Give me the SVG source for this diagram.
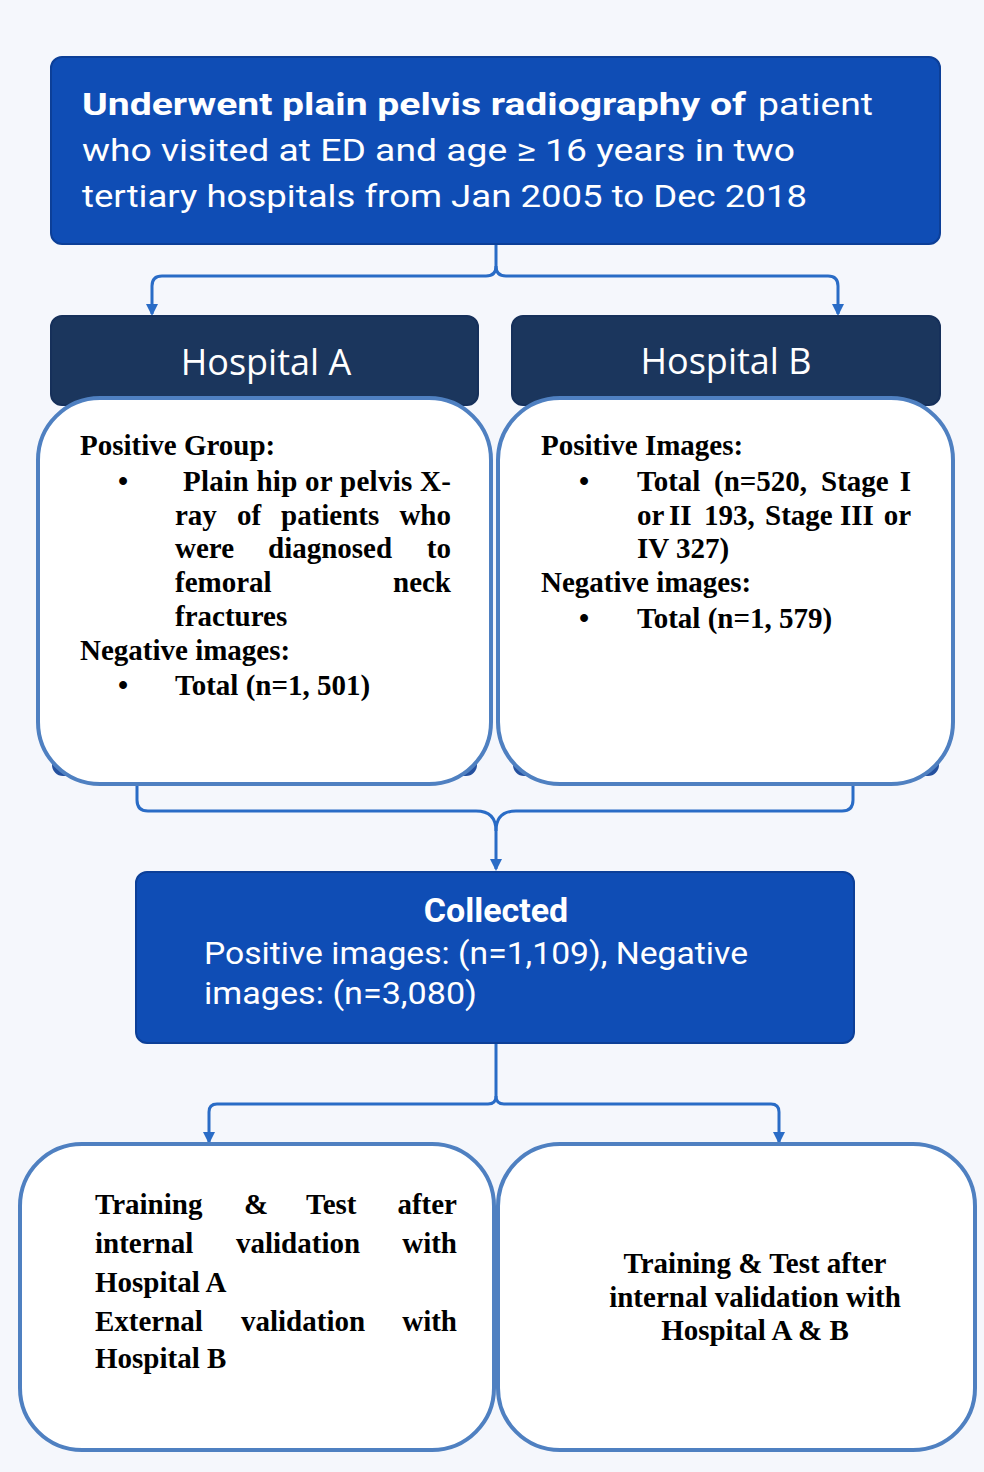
<svg xmlns="http://www.w3.org/2000/svg" width="984" height="1472" viewBox="0 0 984 1472">
<style>
.bg{fill:#f5f7fc}
.blue{fill:#0f4db5;stroke:#0c3f98;stroke-width:2}
.navy{fill:#1b365d;stroke:#16305a;stroke-width:2}
.under{fill:#24509e}
.card{fill:#ffffff;stroke:#4f80c1;stroke-width:4}
.conn{fill:none;stroke:#2a6cc6;stroke-width:3}
.sans{font-family:Roboto,"Noto Sans","Liberation Sans",sans-serif;fill:#ffffff}
.hdr{font-family:"Open Sans","Noto Sans","Liberation Sans",sans-serif;fill:#ffffff;font-size:36px}
.ser{font-family:"Liberation Serif","Times New Roman",serif;font-weight:bold;font-size:29px;fill:#000000}
</style>
<defs>
<marker id="arr" viewBox="0 0 12 12" refX="10" refY="6" markerWidth="12" markerHeight="12" markerUnits="userSpaceOnUse" orient="auto">
<path d="M0,0 L12,6 L0,12 z" fill="#2a6cc6"/>
</marker>
</defs>
<rect class="bg" x="0" y="0" width="984" height="1472"/>

<g id="connectors">
<path class="conn" d="M496,244 V266 Q496,276 486,276 H162 Q152,276 152,286 V314" marker-end="url(#arr)"/>
<path class="conn" d="M496,266 Q496,276 506,276 H828 Q838,276 838,286 V314" marker-end="url(#arr)"/>
<path class="conn" d="M137,784 V800 Q137,811 148,811 H476 Q496,811 496,831 V869" marker-end="url(#arr)"/>
<path class="conn" d="M853,784 V800 Q853,811 842,811 H516 Q496,811 496,831"/>
<path class="conn" d="M496,1043 V1096 Q496,1104 488,1104 H217 Q209,1104 209,1112 V1142" marker-end="url(#arr)"/>
<path class="conn" d="M496,1096 Q496,1104 504,1104 H771 Q779,1104 779,1112 V1142" marker-end="url(#arr)"/>
</g>

<g id="node-top">
<rect class="blue" x="51" y="57" width="889" height="187" rx="11"/>
<text class="sans" x="82" y="115" font-size="32"><tspan font-weight="bold" textLength="664" lengthAdjust="spacingAndGlyphs">Underwent plain pelvis radiography of</tspan><tspan x="758" y="115" textLength="115" lengthAdjust="spacingAndGlyphs">patient</tspan></text>
<text class="sans" x="82" y="161" font-size="32" textLength="713" lengthAdjust="spacingAndGlyphs">who visited at ED and age ≥ 16 years in two</text>
<text class="sans" x="82" y="207" font-size="32" textLength="725" lengthAdjust="spacingAndGlyphs">tertiary hospitals from Jan 2005 to Dec 2018</text>
</g>

<g id="node-hospital-a">
<rect class="under" x="52" y="680" width="425" height="96" rx="11"/>
<rect class="navy" x="51" y="316" width="427" height="89" rx="11"/>
<text class="hdr" x="266" y="375" text-anchor="middle">Hospital A</text>
<rect class="card" x="38" y="398" width="453" height="386" rx="62"/>
<text class="ser" x="80" y="455">Positive Group:</text>
<text class="ser" x="118" y="491">•</text>
<text class="ser" x="183" y="491" textLength="268" lengthAdjust="spacing">Plain hip or pelvis X-</text>
<text class="ser" y="525"><tspan x="175">ray</tspan><tspan x="237">of</tspan><tspan x="281">patients</tspan><tspan x="451" text-anchor="end">who</tspan></text>
<text class="ser" y="558"><tspan x="175">were</tspan><tspan x="268">diagnosed</tspan><tspan x="451" text-anchor="end">to</tspan></text>
<text class="ser" y="592"><tspan x="175">femoral</tspan><tspan x="451" text-anchor="end">neck</tspan></text>
<text class="ser" x="175" y="626">fractures</text>
<text class="ser" x="80" y="660">Negative images:</text>
<text class="ser" x="118" y="695">•</text>
<text class="ser" x="175" y="695">Total (n=1, 501)</text>
</g>

<g id="node-hospital-b">
<rect class="under" x="513" y="680" width="426" height="96" rx="11"/>
<rect class="navy" x="512" y="316" width="428" height="89" rx="11"/>
<text class="hdr" x="726" y="374" text-anchor="middle">Hospital B</text>
<rect class="card" x="498" y="398" width="455" height="386" rx="62"/>
<text class="ser" x="541" y="455">Positive Images:</text>
<text class="ser" x="579" y="491">•</text>
<text class="ser" y="491"><tspan x="637">Total</tspan><tspan x="714">(n=520,</tspan><tspan x="821">Stage</tspan><tspan x="911" text-anchor="end">I</tspan></text>
<text class="ser" y="525"><tspan x="637">or</tspan><tspan x="669">II</tspan><tspan x="704">193,</tspan><tspan x="765">Stage</tspan><tspan x="840">III</tspan><tspan x="911" text-anchor="end">or</tspan></text>
<text class="ser" x="637" y="558">IV 327)</text>
<text class="ser" x="541" y="592">Negative images:</text>
<text class="ser" x="579" y="628">•</text>
<text class="ser" x="637" y="628">Total (n=1, 579)</text>
</g>

<g id="node-collected">
<rect class="blue" x="136" y="872" width="718" height="171" rx="11"/>
<text class="sans" x="496" y="922" font-size="34" font-weight="bold" text-anchor="middle">Collected</text>
<text class="sans" x="204" y="964" font-size="32" textLength="544" lengthAdjust="spacingAndGlyphs">Positive images: (n=1,109), Negative</text>
<text class="sans" x="204" y="1004" font-size="32" textLength="273" lengthAdjust="spacingAndGlyphs">images: (n=3,080)</text>
</g>

<g id="node-internal-external">
<rect class="card" x="20" y="1144" width="474" height="306" rx="62"/>
<text class="ser" y="1214"><tspan x="95">Training</tspan><tspan x="244">&amp;</tspan><tspan x="306">Test</tspan><tspan x="457" text-anchor="end">after</tspan></text>
<text class="ser" y="1253"><tspan x="95">internal</tspan><tspan x="236">validation</tspan><tspan x="457" text-anchor="end">with</tspan></text>
<text class="ser" x="95" y="1292">Hospital A</text>
<text class="ser" y="1331"><tspan x="95">External</tspan><tspan x="241">validation</tspan><tspan x="457" text-anchor="end">with</tspan></text>
<text class="ser" x="95" y="1368">Hospital B</text>
</g>

<g id="node-internal-ab">
<rect class="card" x="498" y="1144" width="477" height="306" rx="62"/>
<text class="ser" x="755" y="1273" text-anchor="middle">Training &amp; Test after</text>
<text class="ser" x="755" y="1307" text-anchor="middle">internal validation with</text>
<text class="ser" x="755" y="1340" text-anchor="middle">Hospital A &amp; B</text>
</g>
</svg>
